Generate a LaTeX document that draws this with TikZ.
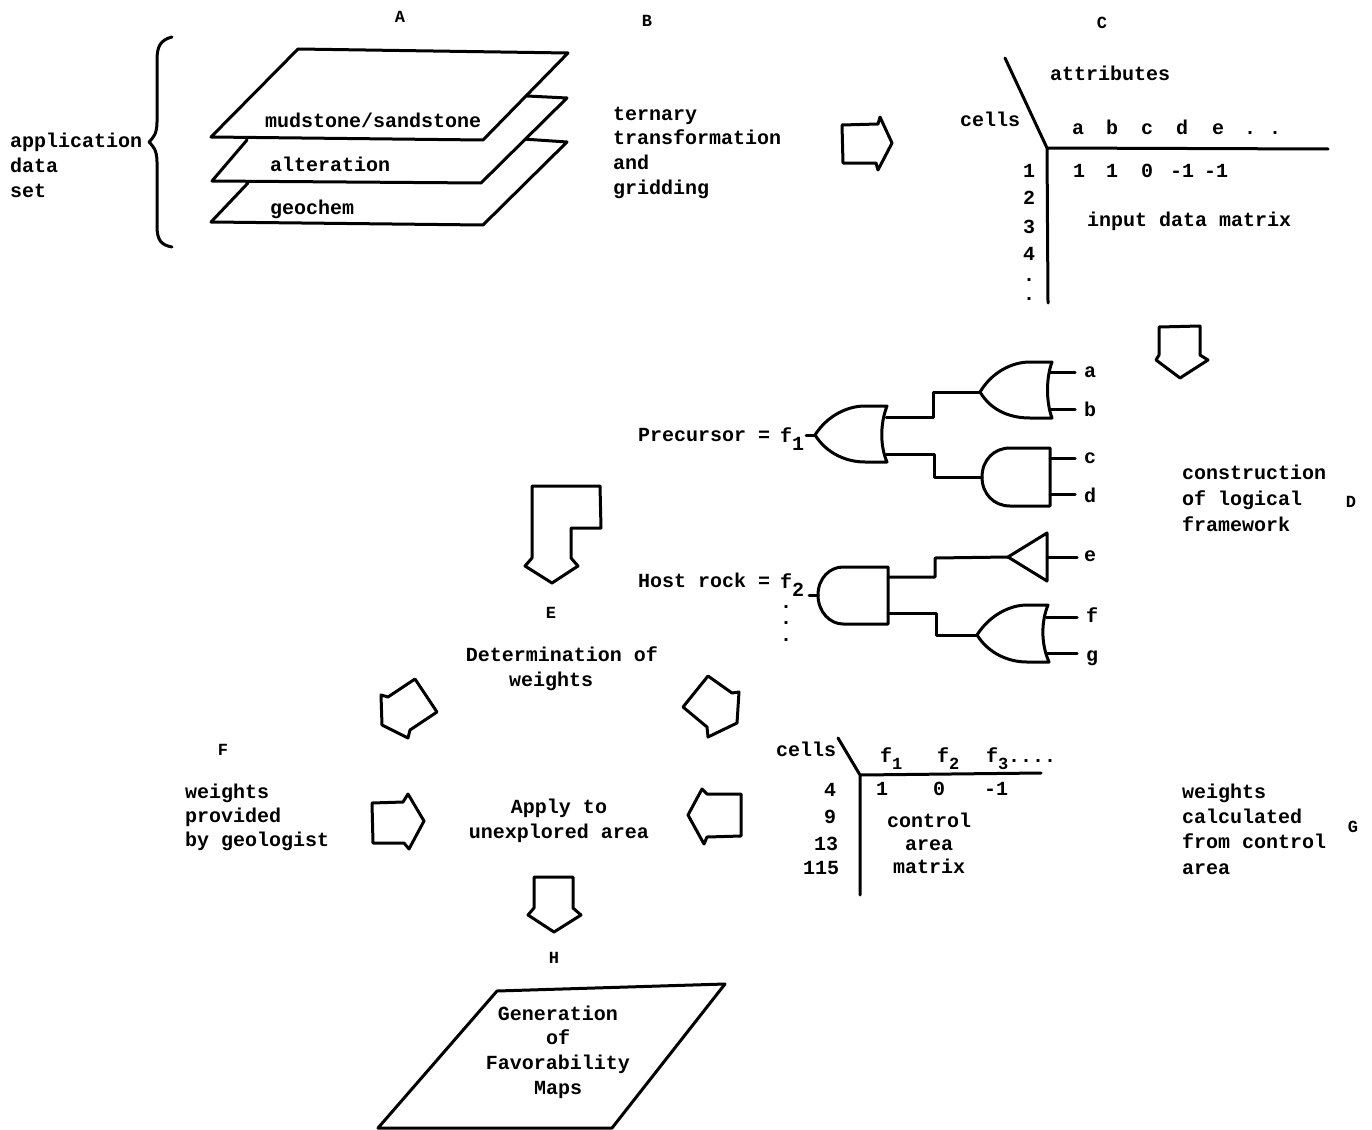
\documentclass[tikz,border=0pt]{standalone}
\usepackage{fontspec}
\setmainfont{Liberation Mono}
\newcommand{\subt}[1]{\raisebox{-8pt}{\fontsize{20}{20}\selectfont #1}}
\newcommand{\subk}[1]{\raisebox{-7pt}{\fontsize{17}{17}\selectfont #1}}
\tikzset{
  x=1pt,y=-1pt,
  ink/.style={line width=3pt,line join=round,line cap=round,black},
  sheet/.style={ink,fill=white},
  blockarrow/.style={line width=3pt,line join=round,black},
  tx/.style={inner sep=0pt,outer sep=0pt,anchor=base west,font=\fontsize{20}{24.6}\selectfont\bfseries,align=left},
  txc/.style={inner sep=0pt,outer sep=0pt,anchor=base,font=\fontsize{20}{24.6}\selectfont\bfseries,align=center},
  letter/.style={inner sep=0pt,outer sep=0pt,anchor=base,font=\fontsize{17}{20}\selectfont\bfseries},
}
\begin{document}
\begin{tikzpicture}
\useasboundingbox (0,0) rectangle (1372,1129);
\fill[white] (0,0) rectangle (1372,1129);

% section letters
\node[letter] (lA) at (400,23) {A};
\node[letter] (lB) at (647,27) {B};
\node[letter] (lC) at (1102,29) {C};
\node[letter] (lD) at (1351,507) {D};
\node[letter] (lE) at (551,618) {E};
\node[letter] (lF) at (223,755) {F};
\node[letter] (lG) at (1353,832) {G};
\node[letter] (lH) at (554,963) {H};

% brace
\draw[ink] (172,37) .. controls (160,40) and (157,47) .. (157,60) -- (157,122)
  .. controls (157,134) and (153,138) .. (149,142) .. controls (153,146) and (157,150) .. (157,162)
  -- (157,226) .. controls (157,240) and (161,245) .. (172,247);

% stacked sheets
\draw[sheet] (248,183) -- (211,222) -- (483,225) -- (567,142) -- (523,139);
\draw[sheet] (247,140) -- (212,181) -- (481,183) -- (567,98) -- (527,96);
\draw[sheet] (298,49) -- (568,53) -- (483,140) -- (211,137) -- cycle;
\node[tx] (sheet1) at (265,128) {mudstone/sandstone};
\node[tx] (sheet2) at (270,171) {alteration};
\node[tx] (sheet3) at (270,214) {geochem};
\node[tx] (appset) at (10,197) {application\\data\\set};
\node[tx] (ternary) at (613,194) {ternary\\transformation\\and\\gridding};

% block arrows
\draw[blockarrow] (842,125) -- (878,124) -- (880,117) -- (892,143) -- (878,170) -- (876,163) -- (843,163) -- cycle;
\draw[blockarrow] (1159,327) -- (1200,326) -- (1200,355) -- (1208,360) -- (1180,378) -- (1156,360) -- (1159,355) -- cycle;
\draw[blockarrow] (532,486) -- (600,486) -- (601,528) -- (571,528) -- (571,558) -- (578,566) -- (552,583) -- (525,566) -- (532,558) -- cycle;
\draw[blockarrow] (415,679) -- (437,712) -- (410,730) -- (408,738) -- (382,725) -- (381,695) -- (388,697) -- cycle;
\draw[blockarrow] (708,676) -- (732,693) -- (739,692) -- (737,723) -- (708,737) -- (707,727) -- (683,707) -- cycle;
\draw[blockarrow] (372,803) -- (403,802) -- (408,794) -- (424,821) -- (409,849) -- (404,843) -- (373,843) -- cycle;
\draw[blockarrow] (741,794) -- (707,794) -- (702,789) -- (688,815) -- (704,844) -- (707,837) -- (741,836) -- cycle;
\draw[blockarrow] (534,877) -- (573,877) -- (573,908) -- (581,915) -- (554,932) -- (528,915) -- (534,908) -- cycle;

% input data matrix
\coordinate (mO) at (1047,148);
\coordinate (mD) at (1005,58);
\coordinate (mR) at (1328,149);
\coordinate (mB) at (1048,303);
\draw[ink] (mD) -- (mO) (mO) -- (mR) (mO) -- (mB);
\node[tx] (attr) at (1050,81) {attributes};
\node[tx] (cellsC) at (960,127) {cells};
\foreach \n/\x/\t in {ca/1078/a,cb/1112/b,cc/1147/c,cd/1182/d,ce/1218/e,cf/1250/.,cg/1275/.}
  \node[txc] (\n) at (\x,134) {\t};
\foreach \n/\x/\t in {va/1079/1,vb/1112/1,vc/1147/0,vd/1182/-1,ve/1216/-1}
  \node[txc] (\n) at (\x,177) {\t};
\foreach \n/\y/\t in {r1/177/1,r2/204/2,r3/233/3,r4/260/4,r5/281/.,r6/300/.}
  \node[txc] (\n) at (1029,\y) {\t};
\node[tx] (inmat) at (1087,226) {input data matrix};

% gate ports
\coordinate (orAtip) at (980,392);
\coordinate (andCtip) at (982,477);
\coordinate (orF1up) at (886,417);
\coordinate (orF1dn) at (886,454);
\coordinate (f1out) at (815,435);
\coordinate (f1end) at (806,435);
\coordinate (triTip) at (1008,557);
\coordinate (andF2up) at (888,577);
\coordinate (andF2dn) at (888,613);
\coordinate (orFtip) at (977,635);
\coordinate (f2out) at (818,595);
\coordinate (f2end) at (809,595);

% gates
\draw[ink] (orAtip) .. controls (992,372) and (1012,362) .. (1030,362) -- (1052,362)
  .. controls (1046,378) and (1046,402) .. (1052,418) -- (1030,418) .. controls (1012,418) and (992,412) .. (orAtip) -- cycle;
\draw[ink] (andCtip) .. controls (982,460) and (994,448) .. (1010,448) -- (1050,448) -- (1050,506) -- (1010,506) .. controls (994,506) and (982,494) .. (andCtip) -- cycle;
\draw[ink] (f1out) .. controls (827,416) and (847,406) .. (865,406) -- (887,406)
  .. controls (880,424) and (880,446) .. (887,462) -- (865,462) .. controls (847,462) and (827,454) .. (f1out) -- cycle;
\draw[ink] (triTip) -- (1047,533) -- (1047,581) -- cycle;
\draw[ink] (f2out) .. controls (818,578) and (830,567) .. (843,567) -- (888,567) -- (888,624) -- (843,624) .. controls (830,624) and (818,612) .. (f2out) -- cycle;
\draw[ink] (orFtip) .. controls (989,616) and (1009,605) .. (1027,605) -- (1048,605)
  .. controls (1041,622) and (1041,644) .. (1049,662) -- (1027,662) .. controls (1009,662) and (989,654) .. (orFtip) -- cycle;

% wiring
\draw[ink] (orF1up) -- (933,417) -- (933,392) -- (orAtip);
\draw[ink] (orF1dn) -- (934,454) -- (934,477) -- (andCtip);
\draw[ink] (andF2up) -- (935,577) -- (935,558) -- (triTip);
\draw[ink] (andF2dn) -- (936,613) -- (936,635) -- (orFtip);
\draw[ink] (f1end) -- (f1out);
\draw[ink] (f2end) -- (f2out);

% input pins and labels
\foreach \n/\xa/\xb/\y/\lx/\ly/\t in {a/1050/1075/372/1090/377/a,b/1050/1075/409/1090/416/b,c/1050/1075/458/1090/463/c,d/1050/1075/494/1090/502/d,e/1047/1077/557/1090/561/e,f/1046/1077/617/1092/622/f,g/1046/1077/653/1092/661/g}{
  \coordinate (pin\n) at (\xa,\y);
  \node[txc] (lab\n) at (\lx,\ly) {\t};
  \draw[ink] (pin\n) -- (\xb,\y);
}

\node[tx] (prec) at (638,441) {Precursor =};
\node[txc] (pf1) at (792,442) {f\subt{1}};
\node[tx] (host) at (638,587) {Host rock =};
\node[txc] (pf2) at (792,588) {f\subt{2}};
\node[txc,font=\fontsize{20}{16.5}\selectfont\bfseries] (morefn) at (786,641) {.\\.\\.};

\node[tx,font=\fontsize{20}{26}\selectfont\bfseries] (constr) at (1182,531) {construction\\of logical\\framework};
\node[txc] (detw) at (562,686) {Determination of\\weights\hspace*{22pt}};
\node[tx,font=\fontsize{20}{23.6}\selectfont\bfseries] (geol) at (185,846) {weights\\provided\\by geologist};
\node[txc] (apply) at (559,838) {Apply to\\unexplored area};

% control matrix
\coordinate (kO) at (860,775);
\coordinate (kD) at (838,738);
\coordinate (kR) at (1041,773);
\coordinate (kB) at (860,895);
\draw[ink] (kD) -- (kO) (kO) -- (kR) (kO) -- (kB);
\node[tx] (cellsG) at (776,756) {cells};
\node[tx] (kf1) at (880,762) {f\subk{1}};
\node[tx] (kf2) at (937,762) {f\subk{2}};
\node[tx] (kf3) at (986,762) {f\subk{3}....};
\foreach \n/\x/\t in {k1/882/1,k2/939/0,k3/996/-1}
  \node[txc] (\n) at (\x,795) {\t};
\foreach \n/\x/\y/\t in {q1/830/796/4,q2/830/823/9,q3/826/850/13,q4/821/874/115}
  \node[txc] (\n) at (\x,\y) {\t};
\node[txc,font=\fontsize{20}{23}\selectfont\bfseries] (ctrl) at (929,873) {control\\area\\matrix};
\node[tx,font=\fontsize{20}{25.3}\selectfont\bfseries] (wcalc) at (1182,874) {weights\\calculated\\from control\\area};

% final sheet
\draw[ink] (497,991) -- (725,984) -- (612,1128) -- (378,1128) -- cycle;
\node[txc] (gen) at (558,1094) {Generation\\of\\Favorability\\Maps};
\end{tikzpicture}
\end{document}
